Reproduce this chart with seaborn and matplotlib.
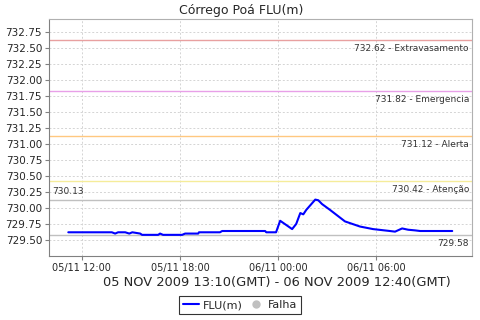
import numpy as np
import pandas as pd
import matplotlib
matplotlib.use('Agg')
import matplotlib.pyplot as plt
import matplotlib.dates as mdates
from matplotlib.lines import Line2D
import seaborn as sns

# readings (local time)
times = ['2009-11-05 11:10', '2009-11-05 13:50', '2009-11-05 14:02', '2009-11-05 14:13',
         '2009-11-05 14:39', '2009-11-05 14:54', '2009-11-05 15:05', '2009-11-05 15:34',
         '2009-11-05 15:41', '2009-11-05 16:40', '2009-11-05 16:47', '2009-11-05 16:58',
         '2009-11-05 18:08', '2009-11-05 18:19', '2009-11-05 19:07', '2009-11-05 19:10',
         '2009-11-05 20:27', '2009-11-05 20:35', '2009-11-05 23:13', '2009-11-05 23:17',
         '2009-11-05 23:53', '2009-11-06 00:08', '2009-11-06 00:52', '2009-11-06 01:07',
         '2009-11-06 01:22', '2009-11-06 01:33', '2009-11-06 01:44', '2009-11-06 02:17',
         '2009-11-06 02:28', '2009-11-06 02:42', '2009-11-06 03:11', '2009-11-06 04:06',
         '2009-11-06 05:01', '2009-11-06 05:49', '2009-11-06 06:51', '2009-11-06 07:10',
         '2009-11-06 07:36', '2009-11-06 07:58', '2009-11-06 08:23', '2009-11-06 08:42',
         '2009-11-06 10:40']
levels = [729.62, 729.62, 729.60, 729.62,
          729.62, 729.60, 729.62, 729.60,
          729.58, 729.58, 729.60, 729.58,
          729.58, 729.60, 729.60, 729.62,
          729.62, 729.64, 729.64, 729.62,
          729.62, 729.80, 729.67, 729.75,
          729.92, 729.90, 729.97, 730.13,
          730.12, 730.06, 729.97, 729.79,
          729.71, 729.67, 729.64, 729.63,
          729.68, 729.66, 729.65, 729.64,
          729.64]

# threshold lines
thr_values = [732.62, 731.82, 731.12, 730.42]
thr_labels = ['Extravasamento', 'Emergencia', 'Alerta', 'Atenção']
thr_colors = ['#e8a0a0', '#e8a0e8', '#ffc880', '#f5ec9a']

max_val = 730.13
min_val = 729.58

df = pd.DataFrame({'time': pd.to_datetime(times), 'FLU(m)': levels})

sns.set_style('white')
plt.rcParams['font.family'] = ['DejaVu Sans']

fig = plt.figure(figsize=(4.8, 3.2), dpi=100)
ax = fig.add_axes([0.102, 0.2, 0.881, 0.741])

ax.grid(True, color='#d4d4d4', linestyle=(0, (2, 2)), linewidth=0.7)
ax.set_axisbelow(True)

for v, lab, c in zip(thr_values, thr_labels, thr_colors):
    ax.axhline(v, color=c, linewidth=1.0, zorder=2)
    ax.text(0.993, v - 0.06, '%.2f - %s' % (v, lab), transform=ax.get_yaxis_transform(),
            ha='right', va='top', fontsize=6.5, color='#333333')

ax.axhline(max_val, color='#c0c0c0', linewidth=1.0, zorder=2)
ax.text(0.007, max_val + 0.05, '%.2f' % max_val, transform=ax.get_yaxis_transform(),
        ha='left', va='bottom', fontsize=6.5, color='#333333')
ax.axhline(min_val, color='#c0c0c0', linewidth=1.0, zorder=2)
ax.text(0.993, min_val - 0.06, '%.2f' % min_val, transform=ax.get_yaxis_transform(),
        ha='right', va='top', fontsize=6.5, color='#333333')

sns.lineplot(data=df, x='time', y='FLU(m)', color='#0000ff', linewidth=1.5, ax=ax, zorder=3)

ax.set_xlim(pd.Timestamp('2009-11-05 09:59'), pd.Timestamp('2009-11-06 11:52'))
ax.set_ylim(729.25, 732.95)
ax.set_yticks(np.arange(729.5, 732.76, 0.25))
ax.yaxis.set_major_formatter(matplotlib.ticker.FormatStrFormatter('%.2f'))
ax.xaxis.set_major_locator(mdates.HourLocator(byhour=[0, 6, 12, 18]))
ax.xaxis.set_major_formatter(mdates.DateFormatter('%d/%m %H:%M'))
ax.tick_params(axis='y', labelsize=7.5, length=3, color='#808080', pad=2, direction='out', left=True)
ax.tick_params(axis='x', labelsize=7, length=3, color='#808080', pad=2, direction='out', bottom=True)

for s in ax.spines.values():
    s.set_color('#b0b0b0')
    s.set_linewidth(0.8)
ax.spines['left'].set_color('#808080')
ax.spines['bottom'].set_color('#808080')

ax.set_ylabel('')
ax.set_xlabel('05 NOV 2009 13:10(GMT) - 06 NOV 2009 12:40(GMT)', fontsize=9.4)
ax.xaxis.set_label_coords(0.539, -0.085)
fig.text(0.502, 0.967, 'Córrego Poá FLU(m)', ha='center', va='center', fontsize=9)

handles = [Line2D([], [], color='#0000ff', linewidth=1.5),
           Line2D([], [], color='#c0c0c0', marker='o', linestyle='', markersize=5)]
leg = fig.legend(handles, ['FLU(m)', 'Falha'], loc='center', bbox_to_anchor=(0.5, 0.046),
                 ncol=2, fontsize=8, frameon=True, fancybox=False, handlelength=1.5,
                 handletextpad=0.3, columnspacing=0.5, borderpad=0.35, borderaxespad=0)
leg.get_frame().set_edgecolor('black')
leg.get_frame().set_linewidth(0.8)

fig.savefig('out.png', dpi=100)
